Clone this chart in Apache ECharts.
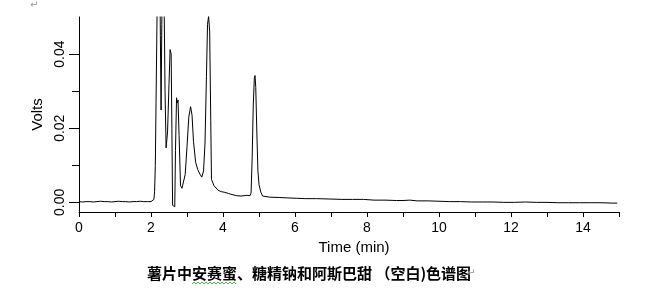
<!DOCTYPE html>
<html>
<head>
<meta charset="utf-8">
<script src="https://cdn.jsdelivr.net/npm/echarts@6/dist/echarts.min.js"></script>
<style>
html,body{margin:0;padding:0;background:#fff;}
#c{width:670px;height:298px;}
</style>
</head>
<body>
<div id="c"></div>
<script>
// Retention time (min)
var times = [0,0.1,0.2,0.3,0.4,0.5,0.6,0.7,0.8,0.9,1.0,1.1,1.2,1.3,1.4,1.5,1.6,1.7,1.8,1.9,2.0,2.05,2.08,2.10,2.12,2.14,2.17,2.20,2.24,2.26,2.28,2.30,2.33,2.36,2.39,2.42,2.46,2.50,2.53,2.56,2.58,2.60,2.63,2.66,2.68,2.71,2.73,2.75,2.78,2.82,2.86,2.90,2.95,3.00,3.05,3.10,3.14,3.18,3.24,3.30,3.36,3.41,3.46,3.50,3.54,3.57,3.60,3.63,3.66,3.68,3.75,3.86,3.95,4.05,4.15,4.25,4.38,4.5,4.66,4.75,4.78,4.81,4.84,4.87,4.89,4.91,4.94,4.97,5.00,5.05,5.10,5.3,5.58,5.8,6.05,6.3,6.6,6.97,7.3,7.6,7.9,8.2,8.5,8.82,9.0,9.19,9.4,9.7,10.0,10.3,10.6,10.9,11.2,11.5,11.8,12.1,12.4,12.7,13.0,13.3,13.6,13.9,14.2,14.5,14.8,14.95];
// Detector signal (Volts)
var volts = [0.0002,0.0001,0.0002,0.0002,0.0001,0.0002,0.0003,0.0002,0.0002,0.0001,0.0002,0.0003,0.0002,0.0002,0.0001,0.0002,0.0002,0.0003,0.0002,0.0002,0.0002,0.0003,0.0008,0.003,0.010,0.027,0.052,0.075,0.068,0.045,0.0249,0.048,0.068,0.058,0.030,0.0147,0.019,0.032,0.0412,0.040,0.020,-0.0008,-0.0010,-0.0012,0.014,0.0282,0.0268,0.0276,0.018,0.0045,0.0038,0.0042,0.0075,0.015,0.023,0.0258,0.0235,0.0165,0.0108,0.0088,0.0076,0.0068,0.0085,0.016,0.034,0.048,0.0502,0.046,0.022,0.0062,0.0045,0.0033,0.0029,0.0027,0.0024,0.0021,0.0018,0.0017,0.0019,0.0018,0.0026,0.012,0.026,0.0335,0.0342,0.031,0.019,0.0085,0.0048,0.0028,0.0017,0.0014,0.0013,0.0012,0.0011,0.0010,0.0010,0.0009,0.0008,0.0008,0.0008,0.0006,0.0006,0.0005,0.0005,0.0006,0.0004,0.0004,0.0003,0.0002,0.0002,0.0001,0.0001,0.0001,0.0000,0.0000,0.0001,0.0000,0.0000,-0.0001,-0.0001,-0.0001,-0.0001,-0.0001,-0.0002,-0.0002];
// Axis ticks and labels
var xTickValues = [0,1,2,3,4,5,6,7,8,9,10,11,12,13,14,15];
var xLabelValues = [0,2,4,6,8,10,12,14];
var yLabelValues = [0,0.02,0.04];
var yLabelTexts = ['0.00','0.02','0.04'];
var yMinorTickValues = [0.01,0.03];
var xName = 'Time (min)';
var yName = 'Volts';
var caption = '薯片中安赛蜜、糖精钠和阿斯巴甜 （空白)色谱图';

var pts = [];
for (var i = 0; i < times.length; i++) pts.push([times[i], volts[i]]);

var FONT = '"Liberation Sans", Arial, sans-serif';
var chart = echarts.init(document.getElementById('c'), null, {renderer: 'canvas'});
var yCommon = {type: 'value', min: -0.0026, max: 0.05, splitLine: {show: false}};
chart.setOption({
  animation: false,
  backgroundColor: '#fff',
  grid: {left: 79, top: 17, width: 540, height: 195, containLabel: false},
  xAxis: {
    type: 'value', min: 0, max: 15,
    name: xName, nameLocation: 'middle', nameGap: 27,
    nameTextStyle: {fontSize: 15, color: '#000', fontFamily: FONT, padding: [0, 0, 0, 10]},
    axisLine: {show: true, onZero: false, lineStyle: {color: '#000', width: 1}},
    axisTick: {show: true, length: 5, customValues: xTickValues, lineStyle: {color: '#000'}},
    axisLabel: {customValues: xLabelValues, margin: 9, fontSize: 14, color: '#000', fontFamily: FONT},
    splitLine: {show: false}
  },
  yAxis: [
    Object.assign({}, yCommon, {
      name: yName, nameLocation: 'middle', nameGap: 32,
      nameTextStyle: {fontSize: 15, color: '#000', fontFamily: FONT},
      axisLine: {show: true, onZero: false, lineStyle: {color: '#000', width: 1}},
      axisTick: {show: true, length: 10, customValues: yLabelValues, lineStyle: {color: '#000'}},
      axisLabel: {
        customValues: yLabelValues, rotate: 90, margin: 12, fontSize: 14, color: '#000', fontFamily: FONT,
        formatter: function (v) { var k = yLabelValues.indexOf(v); return k >= 0 ? yLabelTexts[k] : v.toFixed(2); }
      }
    }),
    Object.assign({}, yCommon, {
      position: 'left', offset: 0,
      axisLine: {show: false},
      axisTick: {show: true, length: 7, customValues: yMinorTickValues, lineStyle: {color: '#000'}},
      axisLabel: {show: false}
    })
  ],
  series: [{
    type: 'line', data: pts, showSymbol: false, symbol: 'none', clip: true,
    lineStyle: {color: '#000', width: 1}, silent: true
  }],
  graphic: [
    {type: 'text', left: 147, top: 266, style: {text: caption, font: 'bold 15px "Noto Sans CJK SC", sans-serif', fill: '#000'}},
    {type: 'text', left: 467, top: 268, style: {text: '↵', font: '10px "DejaVu Sans", sans-serif', fill: '#9a9a9a'}},
    {type: 'text', left: 30, top: 0, style: {text: '↵', font: '10px "DejaVu Sans", sans-serif', fill: '#9a9a9a'}},
    {type: 'polyline', silent: true, shape: {points: [[192,284],[194,282],[196,284],[198,282],[200,284],[202,282],[204,284],[206,282],[208,284],[210,282],[212,284],[214,282],[216,284],[218,282],[220,284],[222,282],[224,284],[226,282],[228,284],[230,282],[232,284],[234,282],[236,284]]}, style: {stroke: '#4caf50', lineWidth: 1, fill: null}}
  ]
});
</script>
</body>
</html>
